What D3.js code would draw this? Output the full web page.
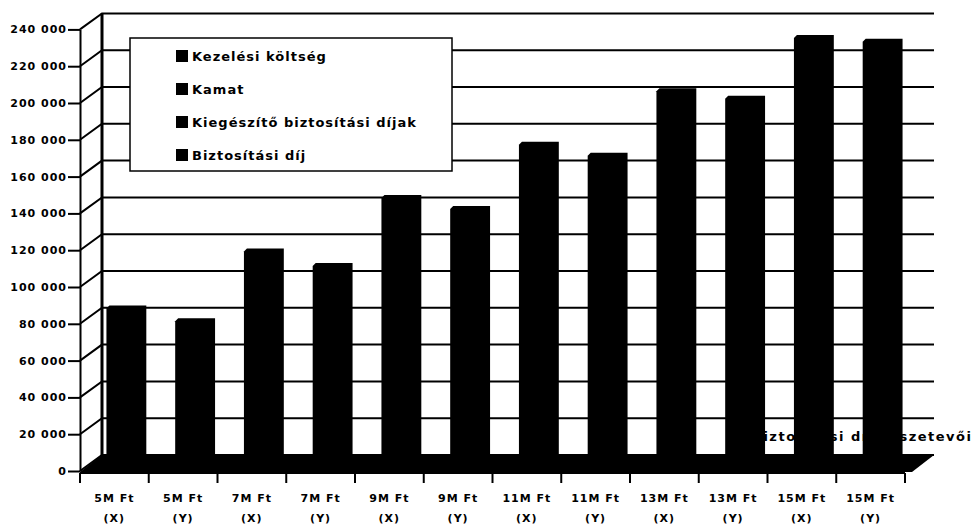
<!DOCTYPE html>
<html>
<head>
<meta charset="utf-8">
<script src="https://cdn.jsdelivr.net/npm/d3@7"></script>
<style>
  html, body { margin: 0; padding: 0; background: #fff; }
  svg { display: block; font-family: "DejaVu Sans", sans-serif; font-weight: bold; }
</style>
</head>
<body>
<div id="chart"></div>
<script>
// chart data (totals)
const sizeLabels = ['5M Ft', '5M Ft', '7M Ft', '7M Ft', '9M Ft', '9M Ft', '11M Ft', '11M Ft', '13M Ft', '13M Ft', '15M Ft', '15M Ft'];
const variantLabels = ['(X)', '(Y)', '(X)', '(Y)', '(X)', '(Y)', '(X)', '(Y)', '(X)', '(Y)', '(X)', '(Y)'];
const totals = [84000, 77000, 115000, 107000, 144000, 138000, 173000, 167000, 202000, 198000, 231000, 229000];
const seriesNames = ['Kezelési költség', 'Kamat', 'Kiegészítő biztosítási díjak', 'Biztosítási díj'];
const yTicks = [0, 20000, 40000, 60000, 80000, 100000, 120000, 140000, 160000, 180000, 200000, 220000, 240000];
const depthTitle = 'Biztosítási díj összetevői';

document.addEventListener('DOMContentLoaded', function() {
  const width = 976;
  const height = 529;

  // front plane of the 3D box and the depth offset to the back wall
  const plot = { left: 80, right: 905, bottom: 471, top: 29.4 };
  const depth = { dx: 22, dy: -16 };
  const wallRight = 934;

  const svg = d3.select('#chart')
    .append('svg')
    .attr('width', width)
    .attr('height', height);

  const x = d3.scaleBand()
    .domain(d3.range(totals.length))
    .range([plot.left, plot.right])
    .paddingInner(0.42)
    .paddingOuter(0.21);

  const y = d3.scaleLinear()
    .domain([0, 240000])
    .range([plot.bottom, plot.top]);

  const fmt = d3.formatLocale({ decimal: ',', thousands: ' ', grouping: [3], currency: ['', ''] }).format(',');

  // gridlines: side wall diagonal + back wall horizontal
  svg.append('g')
    .selectAll('path')
    .data(yTicks)
    .join('path')
    .attr('fill', 'none')
    .attr('stroke', '#000')
    .attr('stroke-width', 2)
    .attr('d', d => `M${plot.left},${y(d)}L${plot.left + depth.dx},${y(d) + depth.dy}L${wallRight},${y(d) + depth.dy}`);

  // back wall edge
  svg.append('line')
    .attr('x1', plot.left + depth.dx)
    .attr('x2', plot.left + depth.dx)
    .attr('y1', y(240000) + depth.dy)
    .attr('y2', y(0) + depth.dy)
    .attr('stroke', '#000')
    .attr('stroke-width', 3);

  // floor
  svg.append('path')
    .attr('fill', '#000')
    .attr('d', `M${plot.left},${y(0) + 1}L${plot.right + 7},${y(0) + 1}L${wallRight},${y(0) + depth.dy}L${plot.left + depth.dx},${y(0) + depth.dy}Z`);

  // depth axis title sits behind the bars
  svg.append('text')
    .attr('x', 752)
    .attr('y', 441)
    .attr('font-size', 13)
    .attr('letter-spacing', 1.5)
    .text(depthTitle);

  // bars with chamfered top (3D column seen from above)
  const shift = 12;
  const cut = 3;
  svg.append('g')
    .selectAll('path')
    .data(totals)
    .join('path')
    .attr('fill', '#000')
    .attr('d', (d, i) => {
      const x0 = x(i) + shift;
      const x1 = x0 + x.bandwidth();
      const top = y(d) - 11;
      return `M${x0},${y(0)}V${top + cut}L${x0 + cut},${top}H${x1}V${y(0)}Z`;
    });

  // y axis on the front plane
  svg.append('g')
    .attr('transform', `translate(${plot.left},0)`)
    .call(d3.axisLeft(y).tickValues(yTicks).tickSize(12).tickSizeOuter(0).tickPadding(1).tickFormat(fmt))
    .call(g => g.select('.domain').attr('stroke', '#000').attr('stroke-width', 2))
    .call(g => g.selectAll('.tick line').attr('stroke', '#000').attr('stroke-width', 2))
    .call(g => g.selectAll('.tick text')
      .attr('fill', '#000')
      .attr('font-family', '"DejaVu Sans", sans-serif')
      .attr('font-weight', 'bold')
      .attr('font-size', 11)
      .attr('letter-spacing', 1));

  // x axis: front floor edge, ticks between categories
  svg.append('line')
    .attr('x1', plot.left)
    .attr('x2', plot.right)
    .attr('y1', y(0) + 2)
    .attr('y2', y(0) + 2)
    .attr('stroke', '#000')
    .attr('stroke-width', 2);

  svg.append('g')
    .selectAll('line')
    .data(d3.range(totals.length + 1))
    .join('line')
    .attr('x1', i => plot.left + i * x.step())
    .attr('x2', i => plot.left + i * x.step())
    .attr('y1', y(0) + 2)
    .attr('y2', y(0) + 12)
    .attr('stroke', '#000')
    .attr('stroke-width', 2);

  const xLabels = svg.append('g')
    .selectAll('text')
    .data(sizeLabels)
    .join('text')
    .attr('text-anchor', 'middle')
    .attr('font-size', 11)
    .attr('letter-spacing', 1);

  xLabels.append('tspan')
    .attr('x', (d, i) => x(i) + x.bandwidth() / 2)
    .attr('y', 502)
    .text(d => d);

  xLabels.append('tspan')
    .attr('x', (d, i) => x(i) + x.bandwidth() / 2)
    .attr('y', 522)
    .text((d, i) => variantLabels[i]);

  // legend
  const legend = svg.append('g');
  legend.append('rect')
    .attr('x', 130)
    .attr('y', 38)
    .attr('width', 322)
    .attr('height', 133)
    .attr('fill', '#fff')
    .attr('stroke', '#000')
    .attr('stroke-width', 1.5);

  const items = legend.selectAll('g.item')
    .data(seriesNames)
    .join('g')
    .attr('class', 'item')
    .attr('transform', (d, i) => `translate(176,${56 + i * 33})`);

  items.append('rect')
    .attr('x', 0)
    .attr('y', -6)
    .attr('width', 12)
    .attr('height', 12)
    .attr('fill', '#000');

  items.append('text')
    .attr('x', 16)
    .attr('dy', '0.36em')
    .attr('font-size', 13)
    .attr('letter-spacing', 1)
    .text(d => d);
});
</script>
</body>
</html>
